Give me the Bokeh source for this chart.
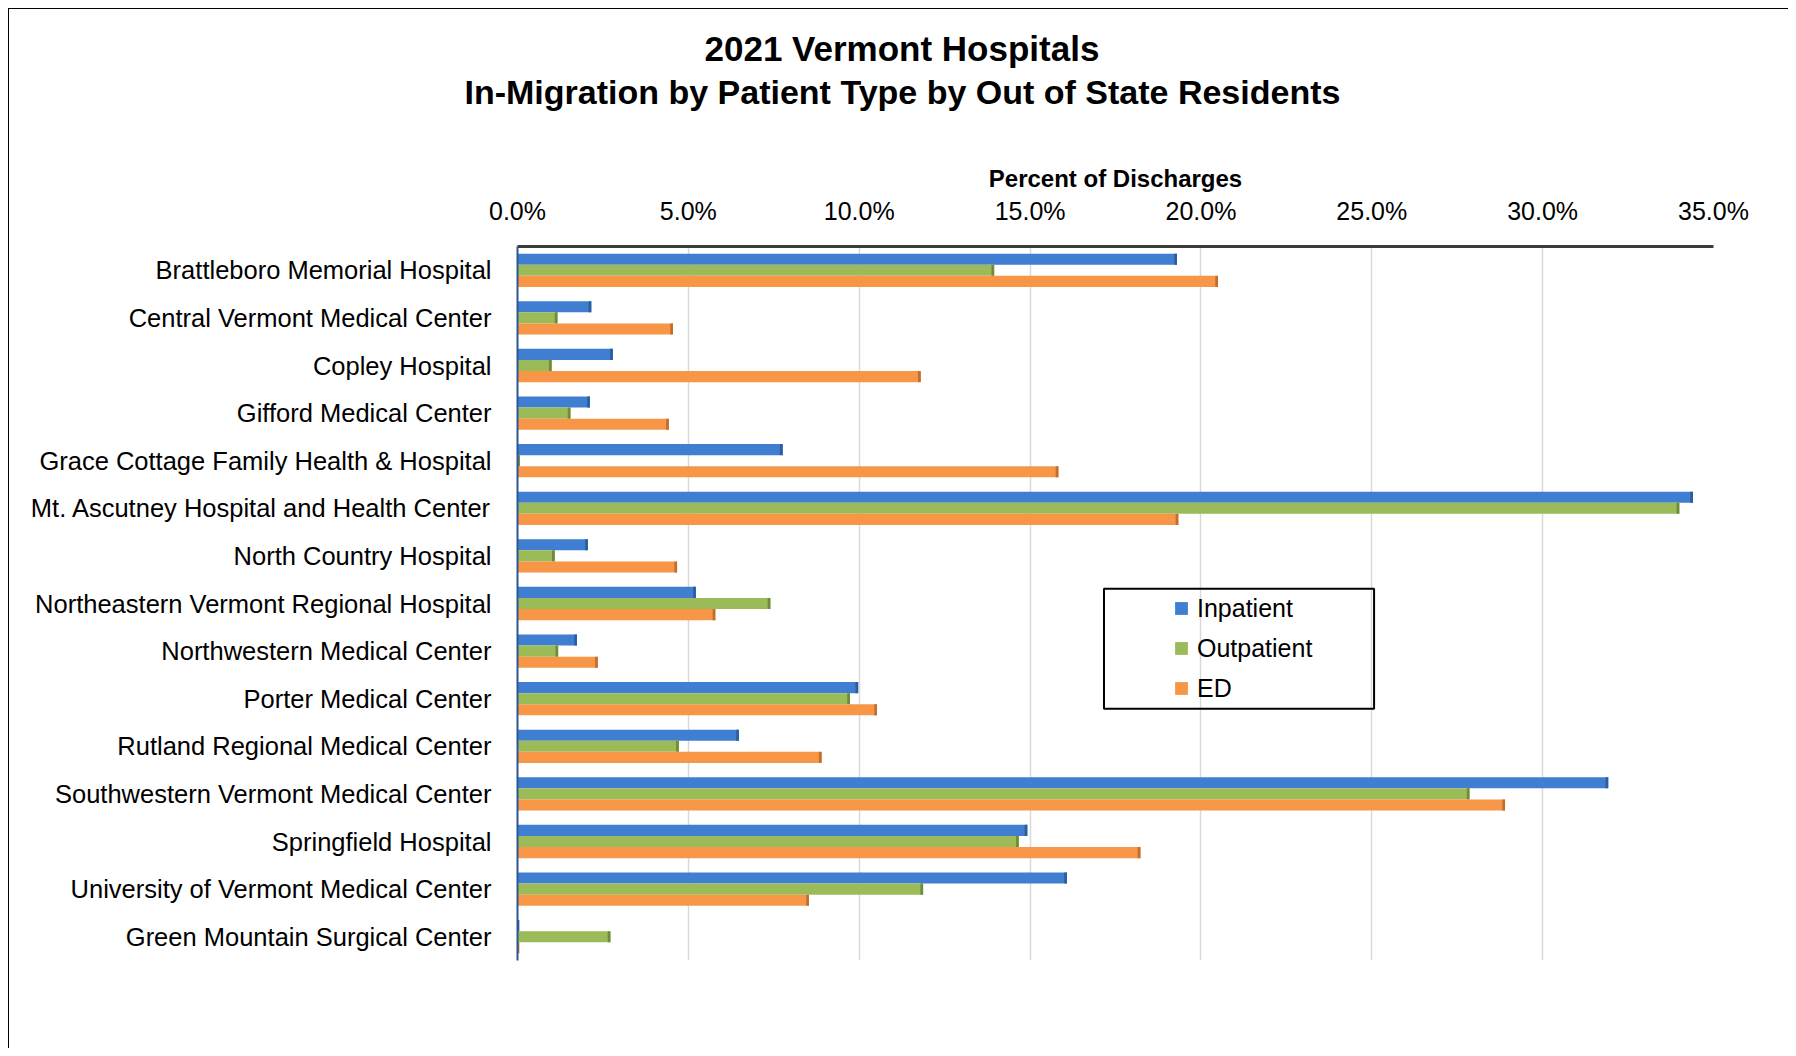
from bokeh.plotting import figure
from bokeh.models import (Range1d, FactorRange, NumeralTickFormatter, FixedTicker,
                          Legend, LegendItem, Title, ColumnDataSource, BoxAnnotation)
from bokeh.transform import dodge
from bokeh.embed import file_html
from bokeh.resources import INLINE

# ---------------- data ----------------
hospitals = [
    "Brattleboro Memorial Hospital",
    "Central Vermont Medical Center",
    "Copley Hospital",
    "Gifford Medical Center",
    "Grace Cottage Family Health & Hospital",
    "Mt. Ascutney Hospital and Health Center",
    "North Country Hospital",
    "Northeastern Vermont Regional Hospital",
    "Northwestern Medical Center",
    "Porter Medical Center",
    "Rutland Regional Medical Center",
    "Southwestern Vermont Medical Center",
    "Springfield Hospital",
    "University of Vermont Medical Center",
    "Green Mountain Surgical Center",
]
inpatient = [0.193, 0.0216, 0.0279, 0.0212, 0.0776, 0.344, 0.0206, 0.0522,
             0.0174, 0.0997, 0.0648, 0.3192, 0.1492, 0.1608, 0.0005]
outpatient = [0.1395, 0.0117, 0.0100, 0.0155, 0.0007, 0.340, 0.0109, 0.0740,
              0.0119, 0.0973, 0.0472, 0.2786, 0.1467, 0.1187, 0.0272]
ed = [0.205, 0.0455, 0.118, 0.0443, 0.1583, 0.1934, 0.0467, 0.0579,
      0.0235, 0.1052, 0.0890, 0.289, 0.1823, 0.0853, 0.0005]
series_names = ["Inpatient", "Outpatient", "ED"]
tick_values = [0.0, 0.05, 0.10, 0.15, 0.20, 0.25, 0.30, 0.35]
title_line1 = "2021 Vermont Hospitals"
title_line2 = "In-Migration by Patient Type by Out of State Residents"
axis_title = "Percent of Discharges"

# ---------------- styles ----------------
FONT = "Liberation Sans"
colors = ["#3F7ED0", "#9BBB59", "#F79646"]
cap_colors = ["#2C5E9E", "#6F8C3A", "#C0702E"]
offsets = [0.233, 0.0, -0.233]
bar_h = 0.233
cap_w = 0.0008

data = dict(hospital=hospitals, Inpatient=inpatient, Outpatient=outpatient, ED=ed)
for name, vals in zip(series_names, [inpatient, outpatient, ed]):
    data[name + "_cap"] = [max(v - cap_w, 0.0) for v in vals]
source = ColumnDataSource(data)

p = figure(width=1780, height=1040, output_backend="svg", toolbar_location=None,
           title=None,
           x_range=Range1d(0, 0.35), y_range=FactorRange(factors=list(reversed(hospitals))),
           x_axis_location="above",
           min_border_left=508, min_border_right=76, min_border_top=237, min_border_bottom=89)
p.outline_line_color = None
p.background_fill_color = "white"
p.border_fill_color = "white"
p.styles = {"margin-left": "8px", "margin-top": "8px",
            "border-left": "1px solid #000000", "border-top": "1px solid #000000"}

for name, col, cap, off in zip(series_names, colors, cap_colors, offsets):
    p.hbar(y=dodge("hospital", off, range=p.y_range), right=name, left=0,
           height=bar_h, source=source, fill_color=col, line_color=None)
    p.hbar(y=dodge("hospital", off, range=p.y_range), right=name, left=name + "_cap",
           height=bar_h, source=source, fill_color=cap, line_color=None)

# x axis (top)
xa = p.xaxis[0]
xa.ticker = FixedTicker(ticks=tick_values)
xa.formatter = NumeralTickFormatter(format="0.0%")
xa.axis_label = axis_title
xa.axis_label_text_font = FONT
xa.axis_label_text_font_style = "bold"
xa.axis_label_text_font_size = "24px"
xa.axis_label_text_color = "#000000"
xa.axis_label_standoff = 2
xa.major_label_text_font = FONT
xa.major_label_text_font_size = "25px"
xa.major_label_text_color = "#000000"
xa.major_label_standoff = 16
xa.major_tick_line_color = None
xa.minor_tick_line_color = None
xa.axis_line_color = "#3a3a3a"
xa.axis_line_width = 3

# y axis
ya = p.yaxis[0]
ya.major_label_text_font = FONT
ya.major_label_text_font_size = "25.5px"
ya.major_label_text_color = "#000000"
ya.major_label_standoff = 20
ya.major_tick_line_color = None
ya.minor_tick_line_color = None
ya.axis_line_color = "#2F5597"
ya.axis_line_width = 2

p.xgrid.grid_line_color = "#D9D9D9"
p.xgrid.grid_line_width = 1.5
p.ygrid.grid_line_color = None

# legend: square-marker proxies of the same data (hidden in the plot)
items = []
for name, col, off in zip(series_names, colors, offsets):
    s = p.scatter(x=name, y=dodge("hospital", off, range=p.y_range), source=source,
                  marker="square", size=13, fill_color=col, line_color=None)
    s.visible = False
    items.append(LegendItem(label=name, renderers=[s]))
legend = Legend(items=items, location=(648, 256), orientation="vertical",
                padding=0, margin=0, spacing=8,
                glyph_width=32, glyph_height=32, label_standoff=0,
                label_width=150, label_height=24,
                label_text_font=FONT, label_text_font_size="25px",
                label_text_color="#000000",
                border_line_color=None, background_fill_alpha=0.0)
p.add_layout(legend, "center")
p.add_layout(BoxAnnotation(left=0.17163, right=0.25067, bottom=5.288, top=7.809,
                           fill_color=None, fill_alpha=0.0,
                           line_color="#000000", line_alpha=1.0, line_width=2))

# titles (stacked above the top axis: spacer, line 2, line 1)
p.add_layout(Title(text=" ", text_font_size="2px", standoff=47), "above")
p.add_layout(Title(text=title_line2, align="left", offset=-53, standoff=0,
                   text_font=FONT, text_font_style="bold", text_font_size="34px",
                   text_color="#000000"), "above")
p.add_layout(Title(text=title_line1, align="left", offset=187, standoff=5,
                   text_font=FONT, text_font_style="bold", text_font_size="35px",
                   text_color="#000000"), "above")

open("out.html", "w").write(file_html(p, INLINE))
